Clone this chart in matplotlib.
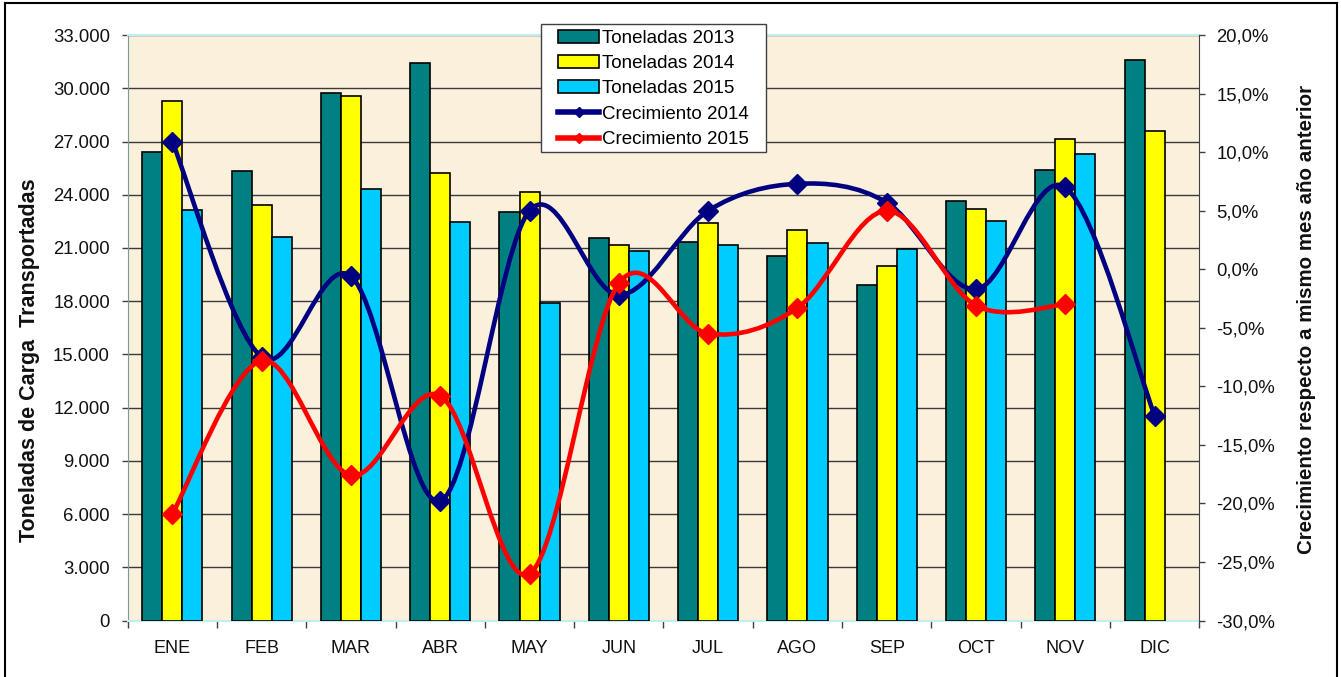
import numpy as np
import matplotlib
matplotlib.use('Agg')
import matplotlib.pyplot as plt
from matplotlib.path import Path
from matplotlib.patches import PathPatch, Patch, Rectangle
from matplotlib.lines import Line2D
from matplotlib.ticker import FixedLocator, FixedFormatter

plt.rcParams['font.family'] = ['Liberation Sans', 'DejaVu Sans']

# ---------------- data ----------------
meses = ['ENE', 'FEB', 'MAR', 'ABR', 'MAY', 'JUN', 'JUL', 'AGO', 'SEP', 'OCT', 'NOV', 'DIC']
ton_2013 = [26400, 25350, 29710, 31455, 23000, 21570, 21330, 20555, 18940, 23675, 25400, 31570]
ton_2014 = [29260, 23430, 29540, 25220, 24150, 21140, 22400, 22020, 19990, 23225, 27135, 27620]
ton_2015 = [23150, 21610, 24350, 22455, 17920, 20855, 21160, 21270, 20950, 22510, 26325]
crec_2014 = [10.9, -7.5, -0.6, -19.8, 5.0, -2.2, 5.0, 7.3, 5.7, -1.7, 7.0, -12.5]
crec_2015 = [-20.9, -7.8, -17.6, -10.8, -26.0, -1.2, -5.5, -3.3, 5.0, -3.1, -3.0]
ticks_ton = [0, 3000, 6000, 9000, 12000, 15000, 18000, 21000, 24000, 27000, 30000, 33000]
labels_ton = ['0', '3.000', '6.000', '9.000', '12.000', '15.000', '18.000', '21.000',
              '24.000', '27.000', '30.000', '33.000']
ticks_crec = [-30, -25, -20, -15, -10, -5, 0, 5, 10, 15, 20]
labels_crec = ['-30,0%', '-25,0%', '-20,0%', '-15,0%', '-10,0%', '-5,0%', '0,0%',
               '5,0%', '10,0%', '15,0%', '20,0%']
series_names = ['Toneladas 2013', 'Toneladas 2014', 'Toneladas 2015',
                'Crecimiento 2014', 'Crecimiento 2015']

# ---------------- style ----------------
C_TEAL = '#008080'
C_YEL = '#FFFF00'
C_CYAN = '#00CCFF'
C_NAVY = '#000080'
C_RED = '#FF0000'
BG = '#FAF0DC'

W, H = 1341, 677
fig = plt.figure(figsize=(W / 100, H / 100), dpi=100)
fig.patch.set_facecolor('white')

L, R, T, B = 127.7, 1199.3, 35.1, 620.5
ax = fig.add_axes([L / W, 1 - B / H, (R - L) / W, (B - T) / H])
ax.set_facecolor(BG)

x = np.arange(len(meses))
bw = 0.225
ax.bar(x[:len(ton_2013)] - bw, ton_2013, bw, color=C_TEAL, edgecolor='black', lw=1.2, zorder=3)
ax.bar(x[:len(ton_2014)], ton_2014, bw, color=C_YEL, edgecolor='black', lw=1.2, zorder=3)
ax.bar(x[:len(ton_2015)] + bw, ton_2015, bw, color=C_CYAN, edgecolor='black', lw=1.2, zorder=3)

ax.set_xlim(-0.5, len(meses) - 0.5)
ax.set_ylim(ticks_ton[0], ticks_ton[-1])
ax.yaxis.set_major_locator(FixedLocator(ticks_ton))
ax.yaxis.set_major_formatter(FixedFormatter(labels_ton))
ax.yaxis.grid(True, color='#3a3a3a', lw=1.0, zorder=1)
ax.set_axisbelow(True)

ax.set_xticks(x)
ax.set_xticklabels(meses)
ax.set_xticks(np.arange(-0.5, len(meses)), minor=True)
ax.tick_params(axis='x', which='major', length=0, pad=14, labelsize=13, colors='#111111')
ax.tick_params(axis='x', which='minor', length=5, width=1, color='#404040', direction='out')
ax.tick_params(axis='y', which='major', length=4.3, width=1, color='#404040', pad=8.5,
               labelsize=13.3, labelcolor='#111111')

ax.spines['top'].set_color('#BFEFEF')
ax.spines['top'].set_linewidth(1.5)
ax.spines['left'].set_color('#7a9a9a')
ax.spines['bottom'].set_color('#BFEFEF')
ax.spines['bottom'].set_linewidth(1.5)
ax.spines['right'].set_visible(False)

ax2 = ax.twinx()
ax2.set_ylim(ticks_crec[0], ticks_crec[-1])
ax2.yaxis.set_major_locator(FixedLocator(ticks_crec))
ax2.yaxis.set_major_formatter(FixedFormatter(labels_crec))
ax2.tick_params(axis='y', length=4.3, width=1, color='#404040', pad=8,
                labelsize=13.3, labelcolor='#111111')
for s in ['top', 'bottom', 'left']:
    ax2.spines[s].set_visible(False)
ax2.spines['right'].set_color('#404040')


def smooth_path(xs, ys):
    pts = np.column_stack([xs, ys]).astype(float)
    n = len(pts)
    verts = [pts[0]]
    codes = [Path.MOVETO]
    for i in range(n - 1):
        p0 = pts[i - 1] if i > 0 else pts[i]
        p1 = pts[i]
        p2 = pts[i + 1]
        p3 = pts[i + 2] if i + 2 < n else pts[i + 1]
        c1 = p1 + (p2 - p0) / 6.0
        c2 = p2 - (p3 - p1) / 6.0
        verts += [c1, c2, p2]
        codes += [Path.CURVE4] * 3
    return Path(verts, codes)


for vals, col, z in [(crec_2014, C_NAVY, 4), (crec_2015, C_RED, 5)]:
    xs = x[:len(vals)]
    pp = PathPatch(smooth_path(xs, vals), facecolor='none', edgecolor=col, lw=3.3,
                   capstyle='round', joinstyle='round', zorder=z)
    ax2.add_patch(pp)
    ax2.plot(xs, vals, linestyle='none', marker='D', ms=10.5, color=col, mec=col, zorder=z + 0.5)

# axis titles
fig.text(30 / W, 1 - 360 / H, 'Toneladas de Carga  Transportadas', rotation=90,
         ha='center', va='center', fontsize=15.5, fontweight='bold', color='#111111')
fig.text(1307 / W, 1 - 320 / H, 'Crecimiento respecto a mismo mes año anterior', rotation=90,
         ha='center', va='center', fontsize=14.8, fontweight='bold', color='#111111')

# legend frame (drawn separately) + legend content
fig.add_artist(Rectangle((541 / W, 1 - 152 / H), 225 / W, 128 / H, transform=fig.transFigure,
                         facecolor='white', edgecolor='#404040', lw=1.0, zorder=4))
handles = [Patch(facecolor=C_TEAL, edgecolor='black', lw=1.2),
           Patch(facecolor=C_YEL, edgecolor='black', lw=1.2),
           Patch(facecolor=C_CYAN, edgecolor='black', lw=1.2),
           Line2D([], [], color=C_NAVY, lw=4, marker='D', ms=5),
           Line2D([], [], color=C_RED, lw=4, marker='D', ms=5)]
leg = fig.legend(handles, series_names, loc='upper left',
                 bbox_to_anchor=(558 / W, 1 - 29.5 / H), frameon=False,
                 fontsize=13.5, borderpad=0, labelspacing=0.44, handlelength=2.19,
                 handletextpad=0.15, borderaxespad=0)
leg.set_zorder(5)

# outer border
fig.add_artist(Line2D([5 / W, 5 / W], [0, 1 - 3 / H], color='black', lw=1.5))
fig.add_artist(Line2D([5 / W, 1336.5 / W], [1 - 3 / H, 1 - 3 / H], color='black', lw=1.5))
fig.add_artist(Line2D([1336.5 / W, 1336.5 / W], [0, 1 - 3 / H], color='black', lw=1.5))

fig.savefig('out.png', dpi=100)
